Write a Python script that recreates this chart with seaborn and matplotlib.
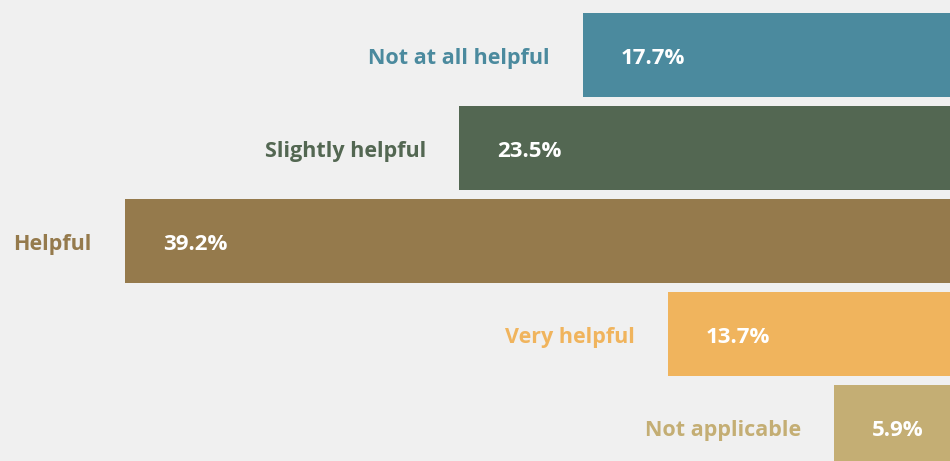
import matplotlib
matplotlib.use("Agg")
import matplotlib.pyplot as plt
import matplotlib.transforms as mtransforms
import seaborn as sns
import pandas as pd

categories = ["Not at all helpful", "Slightly helpful", "Helpful", "Very helpful", "Not applicable"]
values = [17.7, 23.5, 39.2, 13.7, 5.9]
colors = ["#4b8a9e", "#536752", "#957a4c", "#f0b45d", "#c4ae74"]

bg = "#f0f0f0"
sns.set_theme(style="white")
plt.rcParams["font.family"] = ["Open Sans", "DejaVu Sans"]

df = pd.DataFrame({"category": categories, "value": values})

fig = plt.figure(figsize=(9.5, 4.61), dpi=100, facecolor=bg)
ax = fig.add_axes([0, 0, 1, 1], facecolor=bg)

sns.barplot(data=df, y="category", x="value", hue="category",
            palette=colors, order=categories, hue_order=categories,
            width=0.9, orient="h", legend=False, ax=ax, saturation=1,
            edgecolor="none", linewidth=0)

# bars grow leftwards; their base sits just past the right edge
ax.set_xlim(45.07, 0.45)
ax.set_ylim(4.366, -0.591)
ax.set_axis_off()

for i, (cat, val, col) in enumerate(zip(categories, values, colors)):
    lab_off = mtransforms.offset_copy(ax.transData, fig=fig, x=-33, y=-4, units="dots")
    ax.text(val, i, cat, transform=lab_off, ha="right", va="center",
            color=col, fontsize=15.5, fontweight="bold")
    val_off = mtransforms.offset_copy(ax.transData, fig=fig, x=38, y=-4, units="dots")
    ax.text(val, i, f"{val}%", transform=val_off, ha="left", va="center",
            color="white", fontsize=16, fontweight="bold")

fig.savefig("out.png", dpi=100, facecolor=bg)
